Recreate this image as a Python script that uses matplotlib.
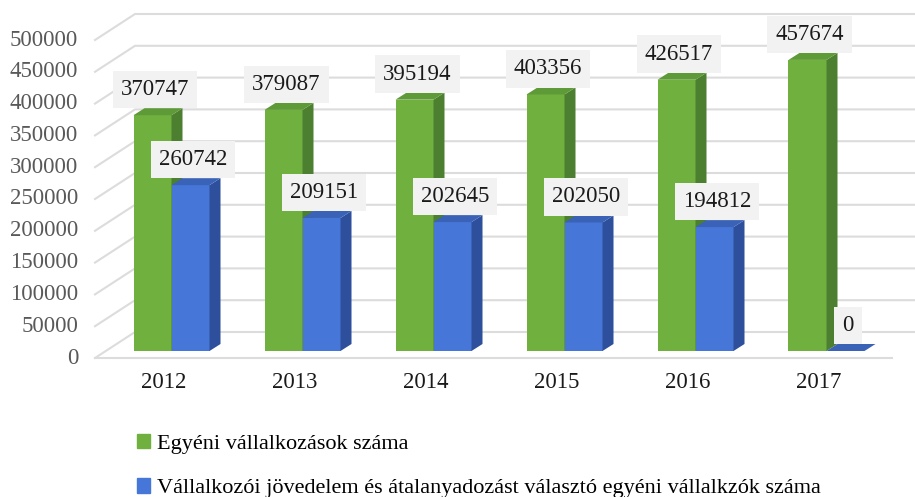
import matplotlib
matplotlib.use("Agg")
import matplotlib.pyplot as plt
from matplotlib.patches import Patch

plt.rcParams['font.family'] = ['Liberation Serif', 'DejaVu Serif']

years = ['2012', '2013', '2014', '2015', '2016', '2017']
egyeni = [370747, 379087, 395194, 403356, 426517, 457674]
valaszto = [260742, 209151, 202645, 202050, 194812, 0]
series_names = ['Egyéni vállalkozások száma',
                'Vállalkozói jövedelem és átalanyadozást választó egyéni vállalkzók száma']
yticks = list(range(0, 500001, 50000))

# colours: front, side, top
green = ('#6fb03f', '#4d7f31', '#5f9a38')
blue = ('#4677d8', '#2d4f9c', '#3a62b6')

# pixel based geometry of the fake 3d look
XS = 131.0          # px per category
YS = 318 / 500000   # px per value unit
def dx(px): return px / XS
def dy(px): return px / YS

W, H = 915, 497
fig = plt.figure(figsize=(W / 100, H / 100), dpi=100)
ax = fig.add_axes([0, 0, 1, 1])
ax.set_xlim(-161 / XS, (W - 161) / XS)
ax.set_ylim(-(H - 358) / YS, 358 / YS)
ax.axis('off')

wall_x, wall_y = dx(40), dy(26)
left, right = dx(95 - 161), dx(892 - 161)
grid_c = '#dcdcdc'

# back wall + left wall gridlines
for v in yticks:
    ax.plot([left, left + wall_x, right + wall_x], [v, v + wall_y, v + wall_y],
            color=grid_c, lw=1.5, zorder=1)
    ax.text(dx(78 - 161), v, str(v), ha='right', va='center',
            fontsize=16.5, color='#595959')
# floor front edge
ax.plot([left, right], [0, 0], color=grid_c, lw=1.5, zorder=1)

off_x, off_y = dx(10.5), dy(7)
dep_x, dep_y = dx(11), dy(7)
bw = dx(38)

def bar3d(xc, v, cols, z):
    x0, x1 = xc - bw / 2 + off_x, xc + bw / 2 + off_x
    y0, y1 = off_y, v + off_y
    ax.fill([x0, x1, x1, x0], [y0, y0, y1, y1], color=cols[0], lw=0, zorder=z)
    ax.fill([x1, x1 + dep_x, x1 + dep_x, x1], [y0, y0 + dep_y, y1 + dep_y, y1],
            color=cols[1], lw=0, zorder=z)
    ax.fill([x0, x1, x1 + dep_x, x0 + dep_x], [y1, y1, y1 + dep_y, y1 + dep_y],
            color=cols[2], lw=0, zorder=z)

for i in range(len(years)):
    bar3d(i - bw / 2, egyeni[i], green, 2 + i)
    bar3d(i + bw / 2, valaszto[i], blue, 2 + i)

lab_kw = dict(ha='center', va='bottom', fontsize=16.5, color='#1a1a1a', zorder=20,
              bbox=dict(boxstyle='square,pad=0.36', fc='#f2f2f2', ec='none'))
for i in range(len(years)):
    for xc, v in ((i - bw / 2, egyeni[i]), (i + bw / 2, valaszto[i])):
        ax.text(xc + off_x + dep_x / 2 - dx(3), v + off_y + dep_y + dy(8),
                str(v), **lab_kw)
    ax.text(i + dx(3), dy(-25), years[i], ha='center', va='center',
            fontsize=16.5, color='#1a1a1a')

handles = [Patch(color=green[0]), Patch(color=blue[0])]
fig.legend(handles, series_names, loc='upper left',
           bbox_to_anchor=(126 / W, 1 - 423 / H), frameon=False, fontsize=16,
           handlelength=0.6, handleheight=0.6, handletextpad=0.3,
           labelspacing=1.1, borderpad=0)

fig.savefig('out.png', dpi=100)
